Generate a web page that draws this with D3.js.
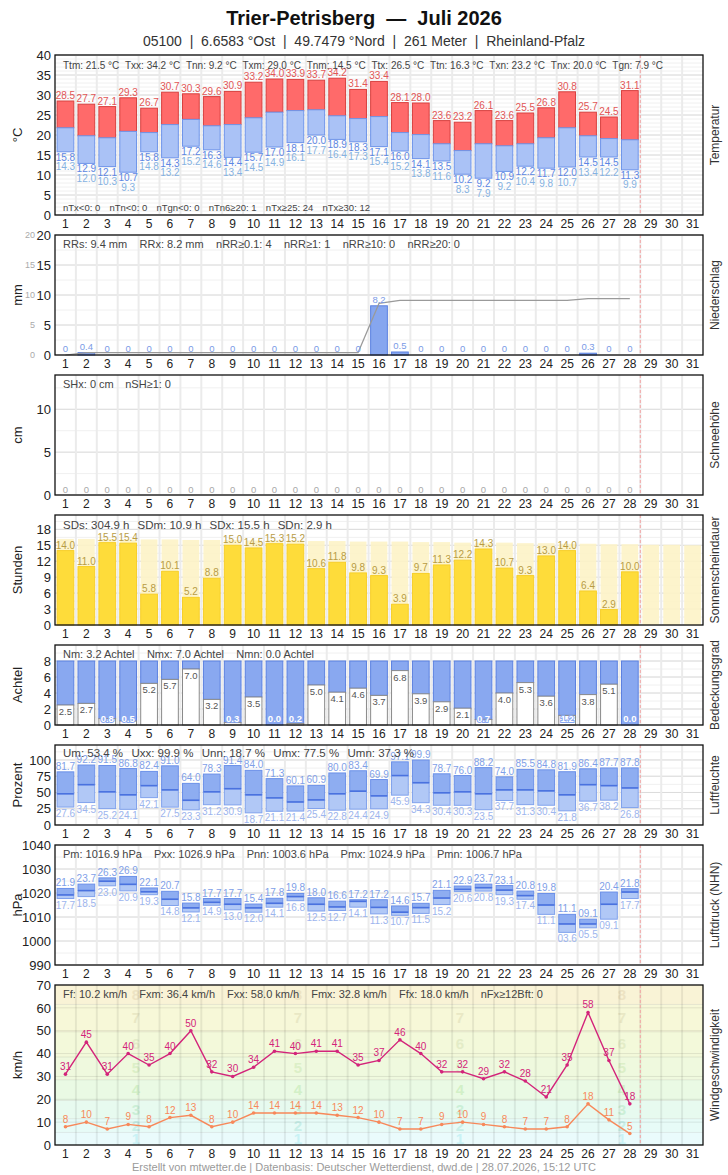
<!DOCTYPE html>
<html>
<head>
<meta charset="utf-8">
<script src="https://cdn.jsdelivr.net/npm/d3@7"></script>
<style>
  body { margin: 0; background: #fff; }
  svg { font-family: "Liberation Sans", Arial, sans-serif; }
</style>
</head>
<body>
<svg id="chart" width="728" height="1175"></svg>
<script>
// ---- data (days 1..28 measured, month has 31 days) ----
const days = d3.range(1, 32);

const tMax    = [28.5,27.7,27.1,29.3,26.7,30.7,30.3,29.6,30.9,33.2,34.0,33.9,33.7,34.2,31.4,33.4,28.1,28.0,23.6,23.2,26.1,23.6,25.5,26.8,30.8,25.7,24.5,31.1];
const tMean   = [21.8,19.8,19.3,20.9,20.6,22.6,23.9,22.3,22.6,24.3,25.7,26.1,26.3,24.8,24.1,24.6,20.6,20.1,17.8,16.1,17.8,17.3,17.8,19.3,21.8,19.8,19.1,18.8];
const tMin    = [15.8,12.9,12.1,10.7,15.8,14.3,17.2,16.3,14.4,15.7,17.0,18.1,20.0,18.9,18.3,17.1,16.0,14.1,13.5,10.2,9.2,10.9,12.2,11.7,12.0,14.5,14.5,11.3];
const tGround = [14.3,12.0,10.3,9.3,14.8,13.2,15.2,14.6,13.4,14.5,14.9,16.1,17.7,16.4,17.3,15.4,15.2,13.8,11.6,8.3,7.9,9.2,10.4,9.8,10.7,13.4,12.2,9.9];

const rain    = [0,0.4,0,0,0,0,0,0,0,0,0,0,0,0,0,8.2,0.5,0,0,0,0,0,0,0,0,0.3,0,0];
const rainSum = [0,0.4,0.4,0.4,0.4,0.4,0.4,0.4,0.4,0.4,0.4,0.4,0.4,0.4,0.4,8.6,9.1,9.1,9.1,9.1,9.1,9.1,9.1,9.1,9.1,9.4,9.4,9.4];

const snow    = [0,0,0,0,0,0,0,0,0,0,0,0,0,0,0,0,0,0,0,0,0,0,0,0,0,0,0,0];

const sun     = [14.0,11.0,15.5,15.4,5.8,10.1,5.2,8.8,15.0,14.5,15.3,15.2,10.6,11.8,9.8,9.3,3.9,9.7,11.3,12.2,14.3,10.7,9.3,13.0,14.0,6.4,2.9,10.0];
const sunPossible = [16.2,16.2,16.2,16.1,16.1,16.1,16.0,16.0,16.0,15.9,15.9,15.9,15.8,15.8,15.7,15.7,15.7,15.6,15.6,15.5,15.5,15.5,15.4,15.4,15.3,15.3,15.2,15.2,15.1,15.1,15.0];

const cloud   = [2.5,2.7,0.8,0.5,5.2,5.7,7.0,3.2,0.3,3.5,0.0,0.2,5.0,4.1,4.6,3.7,6.8,3.9,2.9,2.1,0.7,4.0,5.3,3.6,1.2,3.8,5.1,0.0];

const humMax  = [81.7,92.2,91.5,86.8,82.4,91.0,64.0,78.3,91.4,84.0,71.3,60.1,60.9,80.0,83.4,69.9,97.1,99.9,78.7,76.0,88.2,74.0,85.5,84.8,81.9,86.4,87.7,87.8];
const humMean = [48.0,62.0,51.0,46.4,60.5,54.0,38.0,51.0,55.8,46.4,41.7,35.4,38.6,48.0,52.0,44.8,76.0,65.0,49.5,51.0,48.0,54.0,54.0,52.5,46.4,62.0,60.5,57.0];
const humMin  = [27.6,34.5,25.2,24.1,42.1,27.5,23.3,31.2,30.9,18.7,21.1,21.4,25.4,22.8,24.4,24.9,45.9,34.3,30.4,30.3,23.5,37.7,31.3,30.4,21.8,36.7,38.2,26.8];

const presMax  = [1021.9,1023.7,1026.3,1026.9,1022.1,1020.7,1015.8,1017.7,1017.7,1015.4,1017.8,1019.8,1018.0,1016.6,1017.2,1017.2,1014.6,1015.7,1021.1,1022.9,1023.7,1023.1,1020.8,1019.8,1011.1,1009.1,1020.4,1021.8];
const presMean = [1019.2,1021.0,1024.9,1023.6,1020.5,1017.4,1013.8,1016.1,1015.3,1013.8,1015.7,1018.5,1015.3,1014.2,1016.5,1014.0,1012.0,1013.9,1017.9,1021.5,1022.2,1021.2,1018.9,1015.0,1007.1,1007.1,1015.3,1020.4];
const presMin  = [1017.7,1018.5,1023.0,1020.9,1019.3,1014.8,1012.1,1014.9,1013.0,1012.0,1014.1,1016.8,1012.5,1012.7,1014.1,1011.3,1010.7,1011.5,1015.2,1020.6,1020.8,1019.3,1017.4,1011.1,1003.6,1005.5,1009.1,1017.7];

const windGust = [31,45,31,40,35,40,50,32,30,34,41,40,41,41,35,37,46,40,32,32,29,32,28,21,35,58,37,18];
const windMean = [8,10,7,9,8,12,13,8,10,14,14,14,14,13,12,10,7,7,9,10,9,8,7,7,8,18,11,5];

// Beaufort bands (km/h limits) used as wind panel background
const bftLimits = [0, 5.5, 11.5, 19.5, 28.5, 38.5, 49.5, 61.5, 70];
const bftNames  = ['1','2','3','4','5','6','7','8'];
const bftFill   = ['#eafbfc','#e7fbf7','#e7faef','#eafae4','#eff9de','#f3f9da','#f7f8d8','#f9f3d6'];
const bftText   = ['#c9f2f5','#c8efe8','#cbefd7','#d2f0c7','#dcefc7','#e3ecc7','#e9e8c5','#ede3c3'];

const statsTemp   = ['Ttm: 21.5 °C','Txx: 34.2 °C','Tnn: 9.2 °C','Txm: 29.0 °C','Tnm: 14.5 °C','Ttx: 26.5 °C','Ttn: 16.3 °C','Txn: 23.2 °C','Tnx: 20.0 °C','Tgn: 7.9 °C'];
const statsTemp2  = ['nTx<0: 0','nTn<0: 0','nTgn<0: 0','nTn6≥20: 1','nTx≥25: 24','nTx≥30: 12'];
const statsRain   = ['RRs: 9.4 mm','RRx: 8.2 mm','nRR≥0.1: 4','nRR≥1: 1','nRR≥10: 0','nRR≥20: 0'];
const statsSnow   = ['SHx: 0 cm','nSH≥1: 0'];
const statsSun    = ['SDs: 304.9 h','SDm: 10.9 h','SDx: 15.5 h','SDn: 2.9 h'];
const statsCloud  = ['Nm: 3.2 Achtel','Nmx: 7.0 Achtel','Nmn: 0.0 Achtel'];
const statsHum    = ['Um: 53.4 %','Uxx: 99.9 %','Unn: 18.7 %','Umx: 77.5 %','Umn: 37.3 %'];
const statsPres   = ['Pm: 1016.9 hPa','Pxx: 1026.9 hPa','Pnn: 1003.6 hPa','Pmx: 1024.9 hPa','Pmn: 1006.7 hPa'];
const statsWind   = ['Ff: 10.2 km/h','Fxm: 36.4 km/h','Fxx: 58.0 km/h','Fmx: 32.8 km/h','Ffx: 18.0 km/h','nFx≥12Bft: 0'];

// ---- layout ----
const L = 55, R = 703;
const svg = d3.select('#chart');
const x = d3.scaleBand().domain(days).range([L, R]).paddingInner(0.2).paddingOuter(0.1);
const step = x.step(), bw = x.bandwidth();
const cx = d => x(d) + bw / 2;
const measured = days.slice(0, 28);
const lastDayEdge = L + 28 * step;

svg.append('text').attr('x', 364).attr('y', 25).attr('text-anchor', 'middle')
  .attr('font-size', 20).attr('font-weight', 'bold').attr('fill', '#111')
  .style('white-space', 'pre').text('Trier-Petrisberg  —  Juli 2026');
svg.append('text').attr('x', 364).attr('y', 46).attr('text-anchor', 'middle')
  .attr('font-size', 14).attr('fill', '#333')
  .style('white-space', 'pre').text('05100  |  6.6583 °Ost  |  49.7479 °Nord  |  261 Meter  |  Rheinland-Pfalz');
svg.append('text').attr('x', 364).attr('y', 1171).attr('text-anchor', 'middle')
  .attr('font-size', 11).attr('fill', '#9a9a9a')
  .text('Erstellt von mtwetter.de | Datenbasis: Deutscher Wetterdienst, dwd.de | 28.07.2026, 15:12 UTC');

function makePanel(p) {
  const y = d3.scaleLinear().domain(p.domain).range([p.bottom, p.top]);
  const g = svg.append('g');
  const bg = g.append('g'), grid = g.append('g'), marks = g.append('g'), over = g.append('g');

  bg.append('rect').attr('x', L).attr('y', p.top).attr('width', R - L)
    .attr('height', p.bottom - p.top).attr('fill', '#fff');
  if (p.background) p.background(bg, y);

  if (p.minor) {
    grid.selectAll('line.minor').data(d3.range(p.domain[0], p.domain[1] + 1e-9, p.minor)).join('line')
      .attr('x1', L).attr('x2', R).attr('y1', d => y(d)).attr('y2', d => y(d))
      .attr('stroke', '#f0f0f0').attr('stroke-width', 1);
  }
  grid.selectAll('line.major').data(p.ticks).join('line')
    .attr('x1', L).attr('x2', R).attr('y1', d => y(d)).attr('y2', d => y(d))
    .attr('stroke', p.gridColor || '#dcdcdc').attr('stroke-width', 1);
  grid.selectAll('line.vert').data(d3.range(1, 31)).join('line')
    .attr('x1', k => L + k * step).attr('x2', k => L + k * step)
    .attr('y1', p.top).attr('y2', p.bottom)
    .attr('stroke', p.vColor || '#ebebeb').attr('stroke-width', 2);

  // left axis
  const ya = g.append('g').attr('transform', `translate(${L},0)`)
    .call(d3.axisLeft(y).tickValues(p.ticks).tickFormat(d3.format('d')).tickSize(0).tickPadding(4));
  ya.select('.domain').remove();
  ya.selectAll('text').attr('font-size', 13).attr('fill', '#222').attr('font-family', null);

  // bottom axis (day numbers)
  const xa = g.append('g').attr('transform', `translate(0,${p.bottom})`)
    .call(d3.axisBottom(x).tickSize(0).tickPadding(4));
  xa.select('.domain').remove();
  xa.selectAll('text').attr('font-size', 12).attr('fill', '#222').attr('font-family', null);

  const mid = (p.top + p.bottom) / 2;
  g.append('text').attr('transform', `translate(22,${mid}) rotate(-90)`)
    .attr('text-anchor', 'middle').attr('font-size', 13).attr('fill', '#222').text(p.unit);
  g.append('text').attr('transform', `translate(719,${mid}) rotate(-90)`)
    .attr('text-anchor', 'middle').attr('font-size', 12).attr('fill', '#333').text(p.name);

  // end of data marker and frame
  over.append('line').attr('x1', lastDayEdge).attr('x2', lastDayEdge)
    .attr('y1', p.top).attr('y2', p.bottom)
    .attr('stroke', '#f2a3a3').attr('stroke-width', 1).attr('stroke-dasharray', '3,2');
  over.append('rect').attr('x', L).attr('y', p.top).attr('width', R - L)
    .attr('height', p.bottom - p.top).attr('fill', 'none')
    .attr('stroke', '#111').attr('stroke-width', 1.3);

  return { y, g, marks, over };
}

// spread a row of summary texts from the left edge so the last one ends at `end`
function stats(layer, items, yPos, size, end) {
  const start = L + 8;
  const nodes = items.map(s => layer.append('text').attr('y', yPos)
    .attr('font-size', size).attr('fill', '#444').text(s));
  const widths = nodes.map(t => t.node().getComputedTextLength());
  const gap = items.length > 1 ? (end - start - d3.sum(widths)) / (items.length - 1) : 0;
  let xPos = start;
  nodes.forEach((t, i) => { t.attr('x', xPos); xPos += widths[i] + gap; });
}

function valueLabels(layer, data, ys, fmt, color, size) {
  layer.selectAll(null).data(data).join('text')
    .attr('x', d => cx(d.day)).attr('y', ys)
    .attr('text-anchor', 'middle').attr('font-size', size || 9.5)
    .attr('fill', color).text(fmt);
}

// ---- Temperatur ----
(function () {
  const p = makePanel({ top: 55, bottom: 215, domain: [0, 40], ticks: d3.range(0, 41, 5), minor: 1, unit: '°C', name: 'Temperatur' });
  const rows = measured.map((d, i) => ({ day: d, max: tMax[i], mean: tMean[i], min: tMin[i], ground: tGround[i] }));
  const y = p.y;
  p.marks.selectAll('rect.hi').data(rows).join('rect')
    .attr('x', d => x(d.day)).attr('width', bw)
    .attr('y', d => y(d.max)).attr('height', d => y(d.mean) - y(d.max))
    .attr('fill', '#ff6a6a').attr('stroke', '#d8403f').attr('stroke-width', 1);
  p.marks.selectAll('rect.lo').data(rows).join('rect')
    .attr('x', d => x(d.day)).attr('width', bw)
    .attr('y', d => y(d.mean)).attr('height', d => y(d.min) - y(d.mean))
    .attr('fill', '#aac2f6').attr('stroke', '#6f95ea').attr('stroke-width', 1);
  valueLabels(p.marks, rows, d => y(d.max) - 2, d => d.max.toFixed(1), '#e25656', 10);
  valueLabels(p.marks, rows, d => y(d.min) + 9, d => d.min.toFixed(1), '#5d87e4', 10);
  valueLabels(p.marks, rows, d => y(d.min) + 18.5, d => d.ground.toFixed(1), '#86b2e2', 10);
  stats(p.over, statsTemp, 69, 10, 663);
  stats(p.over, statsTemp2, 211, 9.5, 370);
})();

// ---- Niederschlag ----
(function () {
  const p = makePanel({ top: 235, bottom: 355, domain: [0, 20], ticks: [0, 5, 10, 15, 20], minor: 2.5, unit: 'mm', name: 'Niederschlag' });
  const y = p.y;
  const rows = measured.map((d, i) => ({ day: d, v: rain[i], sum: rainSum[i] }));
  // secondary axis for the running total
  p.g.selectAll('text.sec').data([0, 5, 10, 15, 20]).join('text')
    .attr('x', 35).attr('y', d => y(d) + 3).attr('text-anchor', 'end')
    .attr('font-size', 9).attr('fill', '#aaa').text(d => d);
  p.marks.selectAll('rect.rr').data(rows).join('rect')
    .attr('x', d => x(d.day)).attr('width', bw)
    .attr('y', d => y(d.v)).attr('height', d => y(0) - y(d.v))
    .attr('fill', '#86a6ef').attr('stroke', '#5b80e0').attr('stroke-width', 1);
  p.marks.append('path').datum(rows)
    .attr('d', d3.line().x(d => cx(d.day)).y(d => y(d.sum)))
    .attr('fill', 'none').attr('stroke', '#9a9a9a').attr('stroke-width', 1.2);
  valueLabels(p.marks, rows, d => y(d.v) - 3, d => d.v === 0 ? '0' : d.v.toFixed(1), '#7b9be6', 9.5);
  stats(p.over, statsRain, 248, 11, 460);
})();

// ---- Schneehöhe ----
(function () {
  const p = makePanel({ top: 375, bottom: 495, domain: [0, 14], ticks: [0, 5, 10], minor: 2.5, unit: 'cm', name: 'Schneehöhe' });
  const rows = measured.map((d, i) => ({ day: d, v: snow[i] }));
  valueLabels(p.marks, rows, d => p.y(d.v) - 2, d => d.v, '#aaa', 9.5);
  stats(p.over, statsSnow, 388, 11, 171);
})();

// ---- Sonnenscheindauer ----
(function () {
  const p = makePanel({ top: 515, bottom: 625, domain: [0, 20.7], ticks: [0, 3, 6, 9, 12, 15, 18], minor: 1.5, unit: 'Stunden', name: 'Sonnenscheindauer' });
  const y = p.y;
  const poss = days.map((d, i) => ({ day: d, v: sunPossible[i] }));
  const rows = measured.map((d, i) => ({ day: d, v: sun[i] }));
  p.marks.selectAll('rect.poss').data(poss).join('rect')
    .attr('x', d => x(d.day)).attr('width', bw)
    .attr('y', d => y(d.v)).attr('height', d => y(0) - y(d.v))
    .attr('fill', '#fdf3c6').attr('opacity', 0.9);
  p.marks.selectAll('rect.sd').data(rows).join('rect')
    .attr('x', d => x(d.day)).attr('width', bw)
    .attr('y', d => y(d.v)).attr('height', d => y(0) - y(d.v))
    .attr('fill', '#fedc3a').attr('stroke', '#f7cf2a').attr('stroke-width', 1);
  valueLabels(p.marks, rows, d => y(d.v) - 2, d => d.v.toFixed(1), '#b89c45', 10);
  stats(p.over, statsSun, 529, 11.5, 332);
})();

// ---- Bedeckungsgrad ----
(function () {
  const p = makePanel({ top: 645, bottom: 725, domain: [0, 10], ticks: [0, 2, 4, 6, 8], minor: 1, unit: 'Achtel', name: 'Bedeckungsgrad' });
  const y = p.y;
  const rows = measured.map((d, i) => ({ day: d, v: cloud[i] }));
  p.marks.selectAll('rect.sky').data(rows).join('rect')
    .attr('x', d => x(d.day)).attr('width', bw)
    .attr('y', y(8)).attr('height', d => y(d.v) - y(8))
    .attr('fill', '#89a8f0').attr('stroke', '#5b80e0').attr('stroke-width', 1);
  p.marks.selectAll('rect.cov').data(rows.filter(d => d.v > 0)).join('rect')
    .attr('x', d => x(d.day)).attr('width', bw)
    .attr('y', d => y(d.v)).attr('height', d => y(0) - y(d.v))
    .attr('fill', '#fff').attr('stroke', '#8a8a8a').attr('stroke-width', 1);
  const big = rows.filter(d => d.v >= 1.5), small = rows.filter(d => d.v < 1.5);
  valueLabels(p.marks, big, d => Math.min(y(d.v) + 10, y(0) - 2), d => d.v.toFixed(1), '#555', 9.5);
  p.marks.selectAll('text.small').data(small).join('text')
    .attr('x', d => cx(d.day)).attr('y', y(0) - 3).attr('text-anchor', 'middle')
    .attr('font-size', 9.5).attr('font-weight', 'bold').attr('fill', '#fff')
    .attr('stroke', '#89a8f0').attr('stroke-width', 2).attr('paint-order', 'stroke')
    .text(d => d.v.toFixed(1));
  stats(p.over, statsCloud, 658, 11, 314);
})();

// ---- Luftfeuchte / Luftdruck: range boxes with mean line ----
function rangeBoxes(p, rows, fmt) {
  const y = p.y;
  p.marks.selectAll('rect.up').data(rows).join('rect')
    .attr('x', d => x(d.day)).attr('width', bw)
    .attr('y', d => y(d.max)).attr('height', d => y(d.mean) - y(d.max))
    .attr('fill', '#8eadf1').attr('stroke', '#6b90e8').attr('stroke-width', 1);
  p.marks.selectAll('rect.down').data(rows).join('rect')
    .attr('x', d => x(d.day)).attr('width', bw)
    .attr('y', d => y(d.mean)).attr('height', d => y(d.min) - y(d.mean))
    .attr('fill', '#b1c8f6').attr('stroke', '#80a2ec').attr('stroke-width', 1);
  p.marks.selectAll('line.mean').data(rows).join('line')
    .attr('x1', d => x(d.day)).attr('x2', d => x(d.day) + bw)
    .attr('y1', d => y(d.mean)).attr('y2', d => y(d.mean))
    .attr('stroke', '#4a72df').attr('stroke-width', 1.6);
  valueLabels(p.marks, rows, d => y(d.max) - 2, d => fmt(d.max), '#7f9fe8', 10);
  valueLabels(p.marks, rows, d => y(d.min) + 10, d => fmt(d.min), '#9db5ee', 10);
}

(function () {
  const p = makePanel({ top: 745, bottom: 825, domain: [0, 123], ticks: [0, 25, 50, 75, 100], minor: 12.5, unit: 'Prozent', name: 'Luftfeuchte' });
  const rows = measured.map((d, i) => ({ day: d, max: humMax[i], mean: humMean[i], min: humMin[i] }));
  rangeBoxes(p, rows, v => v.toFixed(1));
  stats(p.over, statsHum, 757, 11.5, 414);
})();

(function () {
  const p = makePanel({ top: 845, bottom: 965, domain: [990, 1040], ticks: d3.range(990, 1041, 10), minor: 5, unit: 'hPa', name: 'Luftdruck (NHN)' });
  const rows = measured.map((d, i) => ({ day: d, max: presMax[i], mean: presMean[i], min: presMin[i] }));
  rangeBoxes(p, rows, v => d3.format('04.1f')(v % 100));
  stats(p.over, statsPres, 858, 11, 522);
})();

// ---- Windgeschwindigkeit ----
(function () {
  const p = makePanel({
    top: 985, bottom: 1145, domain: [0, 70], ticks: d3.range(0, 71, 10), unit: 'km/h', name: 'Windgeschwindigkeit',
    gridColor: 'rgba(0,0,0,0.09)', vColor: 'rgba(0,0,0,0.07)',
    background: (bg, y) => {
      const bands = bftNames.map((n, i) => ({ n, lo: bftLimits[i], hi: bftLimits[i + 1], fill: bftFill[i], txt: bftText[i] }));
      bg.selectAll('rect.bft').data(bands).join('rect')
        .attr('x', L).attr('width', R - L)
        .attr('y', d => y(d.hi)).attr('height', d => y(d.lo) - y(d.hi))
        .attr('fill', d => d.fill);
      bg.selectAll('line.bft').data(bands.slice(1)).join('line')
        .attr('x1', L).attr('x2', R).attr('y1', d => y(d.lo)).attr('y2', d => y(d.lo))
        .attr('stroke', 'rgba(0,0,0,0.08)');
      [0.125, 0.375, 0.625, 0.875].forEach(f => {
        bg.selectAll(null).data(bands).join('text')
          .attr('x', L + f * (R - L)).attr('y', d => y((d.lo + d.hi) / 2) + 5)
          .attr('text-anchor', 'middle').attr('font-size', 15).attr('font-weight', 'bold')
          .attr('fill', d => d.txt).text(d => d.n);
      });
    }
  });
  const y = p.y;
  const gust = measured.map((d, i) => ({ day: d, v: windGust[i] }));
  const mean = measured.map((d, i) => ({ day: d, v: windMean[i] }));
  const line = d3.line().x(d => cx(d.day)).y(d => y(d.v));
  [[gust, '#d3247a'], [mean, '#f7885a']].forEach(([rows, col]) => {
    p.marks.append('path').datum(rows).attr('d', line)
      .attr('fill', 'none').attr('stroke', col).attr('stroke-width', 1.4);
    p.marks.selectAll(null).data(rows).join('circle')
      .attr('cx', d => cx(d.day)).attr('cy', d => y(d.v)).attr('r', 1.8).attr('fill', col);
    valueLabels(p.marks, rows, d => y(d.v) - 4, d => d.v, col, 10);
  });
  stats(p.over, statsWind, 998, 11, 543);
})();
</script>
</body>
</html>
